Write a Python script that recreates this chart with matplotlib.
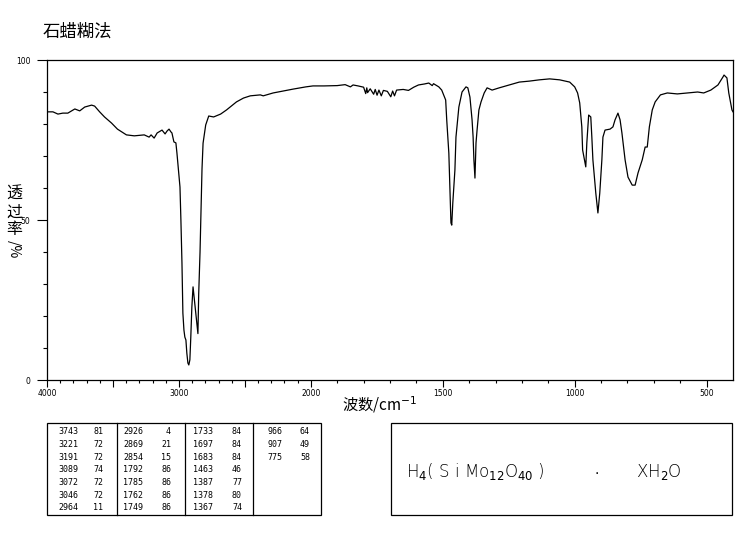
import numpy as np
import matplotlib
matplotlib.use("Agg")
import matplotlib.pyplot as plt
from matplotlib.ticker import FixedLocator, NullFormatter

plt.rcParams['font.family'] = ['Noto Sans CJK SC', 'DejaVu Sans']
plt.rcParams['mathtext.fontset'] = 'dejavusans'

# ---------------- data ----------------
wavenumber = [
    3992, 3955, 3917, 3880, 3842, 3789, 3752, 3714, 3662, 3639, 3601, 3564,
    3511, 3466, 3398, 3338, 3263, 3226, 3211, 3188, 3165, 3128, 3105, 3090,
    3075, 3060, 3053, 3038, 3023, 3015, 2992, 2985, 2977, 2970, 2962, 2955,
    2947, 2940, 2932, 2925, 2917, 2910, 2902, 2893, 2880, 2868, 2856, 2850,
    2840, 2833, 2825, 2817, 2797, 2774, 2737, 2684, 2639, 2564, 2511, 2459,
    2383, 2361, 2286, 2210, 2135, 2038,
    1992, 1950, 1900, 1870, 1850, 1840, 1821, 1800, 1792, 1788, 1785, 1775,
    1762, 1756, 1749, 1742, 1733, 1725, 1710, 1697, 1690, 1683, 1675, 1650,
    1630, 1610, 1592, 1570, 1553, 1540, 1535, 1527, 1515, 1504, 1489, 1485,
    1477, 1473, 1469, 1466, 1462, 1454, 1450, 1439, 1427, 1412, 1405, 1397,
    1389, 1385, 1382, 1378, 1374, 1370, 1363, 1355, 1343, 1332, 1313, 1286,
    1248, 1210, 1172, 1134, 1095, 1057, 1019, 1000, 989, 981, 973, 970,
    958, 954, 947, 939, 935, 931, 920, 912, 905, 897, 893, 885,
    866, 855, 847, 836, 828, 821, 809, 798, 782, 771, 760, 744,
    733, 725, 717, 706, 695, 675, 649, 611, 572, 534, 511, 484,
    457, 438, 434, 423, 416, 404, 400,
]
transmittance = [
    83.8, 83.8, 83.1, 83.4, 83.4, 84.7, 84.1, 85.3, 85.9, 85.6, 83.8, 82.2,
    80.3, 78.4, 76.6, 76.3, 76.6, 75.9, 76.6, 75.6, 77.2, 78.1, 76.9, 77.8,
    78.4, 77.5, 77.2, 74.4, 74.1, 70.9, 60.3, 50.0, 36.6, 20.9, 15.6, 13.4,
    12.5, 8.4, 5.3, 4.7, 6.3, 13.4, 22.8, 29.1, 24.0, 19.0, 14.5, 27.0,
    40.0, 52.0, 66.0, 74.0, 79.7, 82.5, 82.2, 83.1, 84.4, 86.9, 88.1, 88.8,
    89.1, 88.8, 89.7, 90.3, 90.9, 91.6,
    91.9, 91.9, 92.0, 92.3, 91.6, 92.2, 91.9, 91.5, 89.5, 91.3, 89.8, 91.0,
    89.3, 90.8, 89.0, 90.6, 88.8, 90.5, 90.2, 88.5, 90.3, 88.8, 90.6, 90.8,
    90.5, 91.5, 92.2, 92.5, 92.8, 92.0, 92.6, 92.2, 91.6, 90.6, 87.5, 81.3,
    70.9, 60.3, 49.1, 48.4, 55.3, 65.6, 75.9, 85.3, 90.0, 91.6, 91.3, 88.4,
    81.3, 75.9, 68.8, 63.1, 74.1, 78.1, 84.4, 86.9, 89.7, 91.3, 90.6, 91.3,
    92.2, 93.1, 93.4, 93.8, 94.1, 93.8, 93.1, 91.6, 89.7, 86.6, 79.1, 71.9,
    66.6, 74.1, 82.8, 82.2, 75.9, 68.8, 58.4, 52.2, 58.4, 68.8, 75.9, 78.1,
    78.4, 79.1, 81.3, 83.4, 81.3, 77.2, 68.8, 63.4, 60.9, 60.9, 64.7, 68.8,
    72.8, 72.8, 79.1, 84.4, 86.9, 89.1, 89.7, 89.4, 89.7, 90.0, 89.7, 90.6,
    92.2, 94.7, 95.3, 94.4, 89.7, 84.4, 83.8,
]

title_text = "石蜡糊法"
xlabel_text = "波数/cm$^{-1}$"
x_major = [4000, 3500, 3000, 2500, 2000, 1500, 1000, 500]
x_labels = ["4000", "", "3000", "", "2000", "1500", "1000", "500"]
y_major = [0, 50, 100]

peak_cols = [
    [("3743", "81"), ("3221", "72"), ("3191", "72"), ("3089", "74"),
     ("3072", "72"), ("3046", "72"), ("2964", "11")],
    [("2926", "4"), ("2869", "21"), ("2854", "15"), ("1792", "86"),
     ("1785", "86"), ("1762", "86"), ("1749", "86")],
    [("1733", "84"), ("1697", "84"), ("1683", "84"), ("1463", "46"),
     ("1387", "77"), ("1378", "80"), ("1367", "74")],
    [("966", "64"), ("907", "49"), ("775", "58")],
]

formula_left = r"H$_4$( S i Mo$_{12}$O$_{40}$ )"
formula_dot = "·"
formula_right = r"XH$_2$O"

# ---------------- figure ----------------
W, H = 741, 539
fig = plt.figure(figsize=(W / 100, H / 100), dpi=100)

def fx(px):
    return px / W

def fy(py):
    return 1 - py / H

ax = fig.add_axes([fx(47), fy(380), fx(733) - fx(47), fy(60) - fy(380)])

def fwd(w):
    w = np.asarray(w, dtype=float)
    return np.where(w >= 2000, w, 2 * w - 2000)

def inv(v):
    v = np.asarray(v, dtype=float)
    return np.where(v >= 2000, v, (v + 2000) / 2)

ax.set_xscale('function', functions=(fwd, inv))
ax.plot(wavenumber, transmittance, color='black', lw=0.9)
ax.set_xlim(4000, 400)
ax.set_ylim(0, 100)

ax.xaxis.set_major_locator(FixedLocator(x_major))
ax.set_xticklabels(x_labels)
minor_x = [v for v in range(500, 4000, 100) if v not in x_major]
ax.xaxis.set_minor_locator(FixedLocator(minor_x))
ax.xaxis.set_minor_formatter(NullFormatter())
ax.yaxis.set_major_locator(FixedLocator(y_major))
ax.set_yticklabels([str(v) for v in y_major])
ax.yaxis.set_minor_locator(FixedLocator([v for v in range(10, 100, 10) if v != 50]))

ax.tick_params(axis='x', which='major', length=5, width=0.8, labelsize=5.5, pad=1.5,
               direction='out')
ax.tick_params(axis='x', which='minor', length=2.5, width=0.8, direction='out')
ax.tick_params(axis='y', which='major', length=7, width=0.8, labelsize=5.5, pad=5,
               direction='out')
ax.tick_params(axis='y', which='minor', length=3, width=0.8, direction='out')
for lab in ax.get_xticklabels() + ax.get_yticklabels():
    lab.set_family('DejaVu Sans')
for sp in ax.spines.values():
    sp.set_linewidth(0.9)

# title and axis labels
fig.text(fx(43), fy(32), title_text, fontsize=12.5, ha='left', va='center')
fig.text(fx(380), fy(405), xlabel_text, fontsize=11, ha='center', va='center')
fig.text(fx(14), fy(212), "透\n过\n率", fontsize=11.5, ha='center', va='center',
         linespacing=1.05)
fig.text(fx(14), fy(249), "/%", fontsize=10, ha='center', va='center', rotation=-90)

# peak table
tx0, tx1, ty0, ty1 = 47, 321, 423, 515
fig.patches.append(plt.Rectangle((fx(tx0), fy(ty1)), fx(tx1) - fx(tx0), fy(ty0) - fy(ty1),
                                 transform=fig.transFigure, fill=False, lw=0.9,
                                 edgecolor='black'))
dividers = [117, 185, 253]
for d in dividers:
    fig.add_artist(plt.Line2D([fx(d), fx(d)], [fy(ty0), fy(ty1)],
                              transform=fig.transFigure, color='black', lw=0.9))
col_wn_right = [78, 143, 213, 282]
col_t_right = [103, 171, 242, 310]
row_y0, row_dy = 432, 12.6
for ci, col in enumerate(peak_cols):
    for ri, (w, t) in enumerate(col):
        yy = fy(row_y0 + ri * row_dy)
        fig.text(fx(col_wn_right[ci]), yy, w, fontsize=6, ha='right', va='center',
                 family='DejaVu Sans Mono')
        fig.text(fx(col_t_right[ci]), yy, t, fontsize=6, ha='right', va='center',
                 family='DejaVu Sans Mono')

# formula box
bx0, bx1, by0, by1 = 391, 732, 423, 515
fig.patches.append(plt.Rectangle((fx(bx0), fy(by1)), fx(bx1) - fx(bx0), fy(by0) - fy(by1),
                                 transform=fig.transFigure, fill=False, lw=0.9,
                                 edgecolor='black'))
fig.text(fx(406), fy(472), formula_left, fontsize=12, ha='left', va='center',
         family='DejaVu Sans', fontweight='light')
fig.text(fx(597), fy(474), formula_dot, fontsize=10, ha='center', va='center',
         family='DejaVu Sans')
fig.text(fx(636), fy(472), formula_right, fontsize=12, ha='left', va='center',
         family='DejaVu Sans', fontweight='light')

fig.savefig("out.png", dpi=100, facecolor='white')
